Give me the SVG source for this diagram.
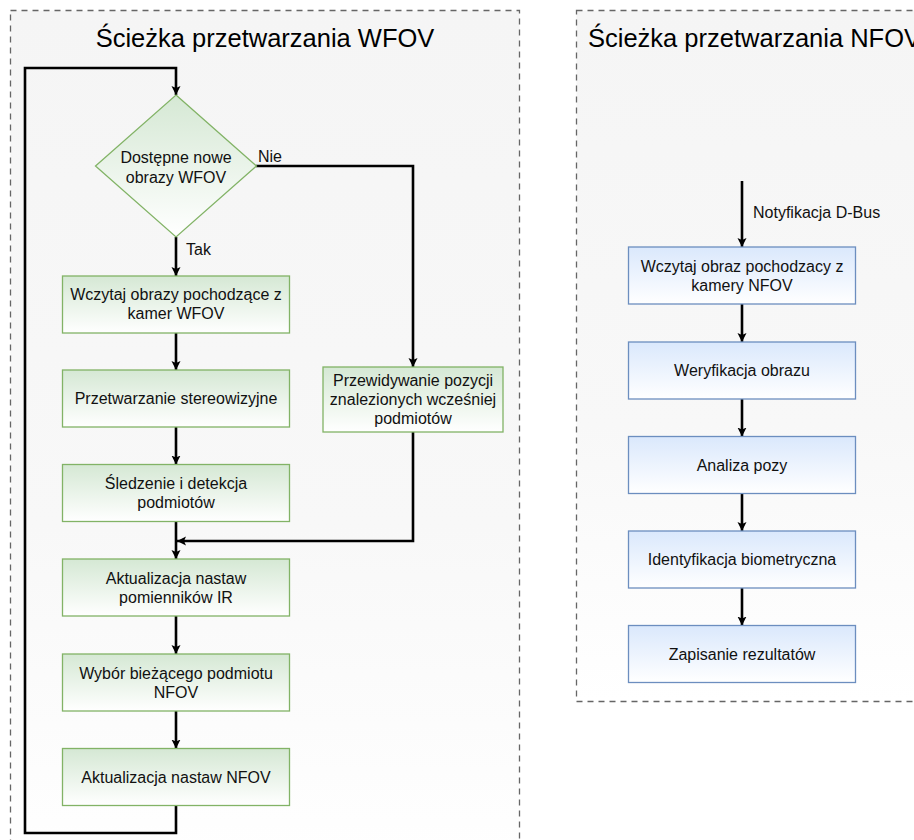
<svg xmlns="http://www.w3.org/2000/svg" width="914" height="840" viewBox="0 0 914 840">
<defs>
  <linearGradient id="gGreen" x1="0" y1="0" x2="0" y2="1">
    <stop offset="0" stop-color="#d5e8d4"/>
    <stop offset="1" stop-color="#ffffff"/>
  </linearGradient>
  <linearGradient id="gBlue" x1="0" y1="0" x2="0" y2="1">
    <stop offset="0" stop-color="#dae8fc"/>
    <stop offset="1" stop-color="#ffffff"/>
  </linearGradient>
  <linearGradient id="gCont" x1="0" y1="0" x2="0" y2="1">
    <stop offset="0" stop-color="#f5f5f5"/>
    <stop offset="0.6" stop-color="#f8f8f8"/>
    <stop offset="1" stop-color="#ffffff"/>
  </linearGradient>
  <marker id="arr" markerUnits="userSpaceOnUse" markerWidth="10" markerHeight="10" refX="9" refY="4.5" orient="auto">
    <path d="M0,0 L9,4.5 L0,9 L2,4.5 z" fill="#000"/>
  </marker>
  <style>
    .cont { fill: url(#gCont); stroke: #666666; stroke-width: 1.3; stroke-dasharray: 6 5; }
    .title { font-family: "Liberation Sans", Arial, Helvetica, sans-serif; font-size: 25.5px; fill: #000; }
    .g { fill: url(#gGreen); stroke: #82b366; stroke-width: 1.3; }
    .b { fill: url(#gBlue); stroke: #6c8ebf; stroke-width: 1.3; }
    .t { font-family: "Liberation Sans", Arial, Helvetica, sans-serif; font-size: 16px; fill: #111; text-anchor: middle; }
    .lbl { font-family: "Liberation Sans", Arial, Helvetica, sans-serif; font-size: 16px; fill: #111; }
    .e { fill: none; stroke: #000; stroke-width: 2.6; marker-end: url(#arr); }
  </style>
</defs>

<g id="container-wfov">
  <rect class="cont" x="10.5" y="10.5" width="509" height="860"/>
  <text class="title" x="265" y="46.5" text-anchor="middle">Ścieżka przetwarzania WFOV</text>
</g>
<g id="container-nfov">
  <rect class="cont" x="576.5" y="10.5" width="400" height="691"/>
  <text class="title" x="588" y="46.5">Ścieżka przetwarzania NFOV</text>
</g>

<g id="connectors">
  <path class="e" d="M176,806 V833 H25 V68 H176 V95"/>
  <path class="e" d="M176,237 V276"/>
  <path class="e" d="M256,166 H413 V367"/>
  <path class="e" d="M176,333 V370"/>
  <path class="e" d="M176,427 V464.5"/>
  <path class="e" d="M176,521.5 V559"/>
  <path class="e" d="M413,432 V541 H177"/>
  <path class="e" d="M176,616 V654"/>
  <path class="e" d="M176,711 V748.5"/>
  <path class="e" d="M742,181 V247"/>
  <path class="e" d="M742,304 V342"/>
  <path class="e" d="M742,399 V436.5"/>
  <path class="e" d="M742,493.5 V531"/>
  <path class="e" d="M742,588 V625.5"/>
  <text class="lbl" x="186" y="255">Tak</text>
  <text class="lbl" x="258" y="161.5">Nie</text>
  <text class="lbl" x="753" y="218">Notyfikacja D-Bus</text>
</g>

<g id="decision">
  <path class="g" d="M176,95 L256.5,166 L176,237 L95.5,166 Z"/>
  <text class="t" x="176" y="163">Dostępne nowe</text>
  <text class="t" x="176" y="182.5">obrazy WFOV</text>
</g>
<g id="load-wfov">
  <rect class="g" x="62.5" y="276" width="227" height="57"/>
  <text class="t" x="176" y="300">Wczytaj obrazy pochodzące z</text>
  <text class="t" x="176" y="319">kamer WFOV</text>
</g>
<g id="stereo">
  <rect class="g" x="62.5" y="370" width="227" height="57"/>
  <text class="t" x="176" y="404">Przetwarzanie stereowizyjne</text>
</g>
<g id="tracking">
  <rect class="g" x="62.5" y="464.5" width="227" height="57"/>
  <text class="t" x="176" y="489">Śledzenie i detekcja</text>
  <text class="t" x="176" y="508">podmiotów</text>
</g>
<g id="predict">
  <rect class="g" x="323" y="367" width="180" height="65"/>
  <text class="t" x="413" y="386">Przewidywanie pozycji</text>
  <text class="t" x="413" y="405">znalezionych wcześniej</text>
  <text class="t" x="413" y="424">podmiotów</text>
</g>
<g id="update-ir">
  <rect class="g" x="62.5" y="559" width="227" height="57"/>
  <text class="t" x="176" y="583.5">Aktualizacja nastaw</text>
  <text class="t" x="176" y="602.5">pomienników IR</text>
</g>
<g id="select-subject">
  <rect class="g" x="62.5" y="654" width="227" height="57"/>
  <text class="t" x="176" y="678.5">Wybór bieżącego podmiotu</text>
  <text class="t" x="176" y="697.5">NFOV</text>
</g>
<g id="update-nfov">
  <rect class="g" x="62.5" y="748.5" width="227" height="57"/>
  <text class="t" x="176" y="782.5">Aktualizacja nastaw NFOV</text>
</g>

<g id="load-nfov">
  <rect class="b" x="628.5" y="247" width="227" height="57"/>
  <text class="t" x="742" y="271.5">Wczytaj obraz pochodzacy z</text>
  <text class="t" x="742" y="290.5">kamery NFOV</text>
</g>
<g id="verify">
  <rect class="b" x="628.5" y="342" width="227" height="57"/>
  <text class="t" x="742" y="376">Weryfikacja obrazu</text>
</g>
<g id="pose">
  <rect class="b" x="628.5" y="436.5" width="227" height="57"/>
  <text class="t" x="742" y="470.5">Analiza pozy</text>
</g>
<g id="biometric">
  <rect class="b" x="628.5" y="531" width="227" height="57"/>
  <text class="t" x="742" y="565">Identyfikacja biometryczna</text>
</g>
<g id="save">
  <rect class="b" x="628.5" y="625.5" width="227" height="57"/>
  <text class="t" x="742" y="659.5">Zapisanie rezultatów</text>
</g>
</svg>
